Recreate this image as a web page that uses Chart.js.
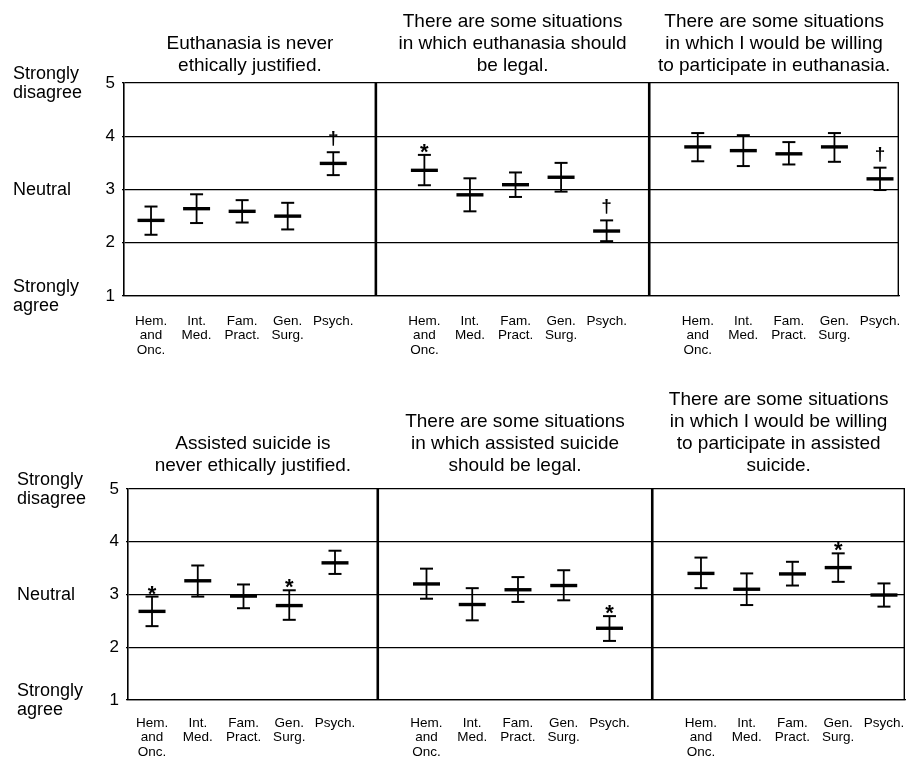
<!DOCTYPE html>
<html><head><meta charset="utf-8">
<script src="https://cdn.jsdelivr.net/npm/chart.js@4.4.1/dist/chart.umd.min.js"></script>
<style>
html,body{margin:0;padding:0;background:#fff;width:909px;height:762px;overflow:hidden;}
.row{position:absolute;left:0;width:909px;}
canvas{display:block;}
</style></head><body>
<div class="row" style="top:0;height:380px"><canvas id="topRow" width="909" height="380"></canvas></div>
<div class="row" style="top:380px;height:382px"><canvas id="bottomRow" width="909" height="382"></canvas></div>
<script>
const FONT = '"Liberation Sans", Arial, Helvetica, sans-serif';

// ---- categories & tick labels ----
const categories = [['Hem.', 'and', 'Onc.'], ['Int.', 'Med.'], ['Fam.', 'Pract.'], ['Gen.', 'Surg.'], ['Psych.']];
const yTicks = [1, 2, 3, 4, 5];
const sideLabels = [
  { value: 5, lines: ['Strongly', 'disagree'] },
  { value: 3, lines: ['Neutral'] },
  { value: 1, lines: ['Strongly', 'agree'] }
];

// ---- panel titles ----
const titleEuthNever = ['Euthanasia is never', 'ethically justified.'];
const titleEuthLegal = ['There are some situations', 'in which euthanasia should', 'be legal.'];
const titleEuthWilling = ['There are some situations', 'in which I would be willing', 'to participate in euthanasia.'];
const titleAsNever = ['Assisted suicide is', 'never ethically justified.'];
const titleAsLegal = ['There are some situations', 'in which assisted suicide', 'should be legal.'];
const titleAsWilling = ['There are some situations', 'in which I would be willing', 'to participate in assisted', 'suicide.'];

// ---- values (mean, lower and upper error bounds, significance marks) ----
const euthNeverMean = [2.42, 2.64, 2.59, 2.50, 3.49];
const euthNeverLow  = [2.15, 2.37, 2.38, 2.25, 3.27];
const euthNeverHigh = [2.68, 2.91, 2.80, 2.75, 3.70];
const euthNeverMarks = ['', '', '', '', '†'];

const euthLegalMean = [3.36, 2.90, 3.09, 3.23, 2.22];
const euthLegalLow  = [3.08, 2.59, 2.86, 2.96, 2.03];
const euthLegalHigh = [3.65, 3.21, 3.32, 3.50, 2.42];
const euthLegalMarks = ['*', '', '', '', '†'];

const euthWillingMean = [3.80, 3.73, 3.67, 3.80, 3.20];
const euthWillingLow  = [3.53, 3.44, 3.47, 3.52, 2.99];
const euthWillingHigh = [4.06, 4.02, 3.89, 4.06, 3.41];
const euthWillingMarks = ['', '', '', '', '†'];

const asNeverMean = [2.68, 3.26, 2.97, 2.79, 3.60];
const asNeverLow  = [2.40, 2.96, 2.74, 2.52, 3.39];
const asNeverHigh = [2.96, 3.55, 3.19, 3.08, 3.83];
const asNeverMarks = ['*', '', '', '*', ''];

const asLegalMean = [3.20, 2.81, 3.09, 3.17, 2.36];
const asLegalLow  = [2.92, 2.51, 2.86, 2.89, 2.12];
const asLegalHigh = [3.49, 3.12, 3.33, 3.46, 2.59];
const asLegalMarks = ['', '', '', '', '*'];

const asWillingMean = [3.40, 3.10, 3.39, 3.51, 2.99];
const asWillingLow  = [3.12, 2.80, 3.17, 3.24, 2.77];
const asWillingHigh = [3.70, 3.40, 3.62, 3.78, 3.21];
const asWillingMarks = ['', '', '', '*', ''];

function makeRow(canvasId, panels, cfg) {
  const slot = categories.length + 1;
  const meanPts = [], capPts = [], whiskerPts = [], tickPositions = [];
  panels.forEach((p, pi) => {
    p.mean.forEach((m, i) => {
      const x = pi * slot + i;
      tickPositions.push(x);
      meanPts.push({ x, y: m });
      capPts.push({ x, y: p.low[i] }, { x, y: p.high[i] });
      whiskerPts.push({ x, y: p.low[i] }, { x, y: p.high[i] }, { x, y: null });
    });
  });
  const edges = panels.slice(1).map((p, k) => (k + 1) * slot - 1 + cfg.sepShift);

  const decor = {
    id: 'decor',
    afterDraw(chart) {
      const { ctx, chartArea: ca, scales: { x, y } } = chart;
      ctx.save();
      ctx.strokeStyle = '#000';
      ctx.fillStyle = '#000';
      // panel separators
      ctx.lineWidth = 2.6;
      edges.forEach(e => {
        const px = x.getPixelForValue(e);
        ctx.beginPath(); ctx.moveTo(px, ca.top); ctx.lineTo(px, ca.bottom); ctx.stroke();
      });
      // right border
      ctx.lineWidth = 1.4;
      ctx.beginPath(); ctx.moveTo(ca.right - 0.7, ca.top); ctx.lineTo(ca.right - 0.7, ca.bottom); ctx.stroke();
      // titles
      const bounds = [x.min, ...edges, x.max];
      ctx.font = '19px ' + FONT;
      ctx.textAlign = 'center';
      ctx.textBaseline = 'middle';
      panels.forEach((p, pi) => {
        const cx = (x.getPixelForValue(bounds[pi]) + x.getPixelForValue(bounds[pi + 1])) / 2;
        const n = p.title.length;
        p.title.forEach((line, li) => {
          ctx.fillText(line, cx, ca.top - cfg.titleGap - (n - 1 - li) * 22);
        });
      });
      // side labels
      ctx.font = '18px ' + FONT;
      ctx.textAlign = 'left';
      sideLabels.forEach(s => {
        const cy = y.getPixelForValue(s.value);
        const n = s.lines.length;
        s.lines.forEach((line, li) => {
          ctx.fillText(line, cfg.sideX, cy + 1 + (li - (n - 1) / 2) * 19);
        });
      });
      // significance marks
      ctx.textAlign = 'center';
      ctx.textBaseline = 'alphabetic';
      panels.forEach((p, pi) => {
        p.marks.forEach((mk, i) => {
          if (!mk) return;
          const px = x.getPixelForValue(pi * slot + i);
          const cy = y.getPixelForValue(p.high[i]);
          if (mk === '*') {
            ctx.font = 'bold 22px ' + FONT;
            ctx.fillText(mk, px, cy + 4);
          } else {
            ctx.font = 'bold 19px ' + FONT;
            ctx.fillText(mk, px, cy - 8);
          }
        });
      });
      ctx.restore();
    }
  };

  return new Chart(document.getElementById(canvasId), {
    type: 'scatter',
    data: {
      datasets: [
        { data: whiskerPts, showLine: true, spanGaps: false, borderColor: '#000', borderWidth: 1.8, pointRadius: 0 },
        { data: capPts, pointStyle: 'line', pointRadius: 6.5, pointBorderWidth: 2, borderColor: '#000', backgroundColor: '#000' },
        { data: meanPts, pointStyle: 'line', pointRadius: 13.5, pointBorderWidth: 3.4, borderColor: '#000', backgroundColor: '#000' }
      ]
    },
    options: {
      responsive: false,
      animation: false,
      devicePixelRatio: 1,
      events: [],
      layout: { autoPadding: false, padding: { top: cfg.padTop, right: cfg.padRight, left: 0, bottom: 0 } },
      plugins: { legend: { display: false }, tooltip: { enabled: false } },
      scales: {
        x: {
          type: 'linear',
          min: cfg.xMin,
          max: cfg.xMax,
          afterBuildTicks: s => { s.ticks = tickPositions.map(v => ({ value: v })); },
          afterFit: s => { s.height = cfg.xAxisHeight; s.paddingLeft = 0; s.paddingRight = 0; },
          ticks: {
            callback: (v, i) => categories[i % categories.length],
            font: { size: 13.5, family: FONT, lineHeight: 1.07 },
            color: '#000',
            padding: cfg.xPad,
            maxRotation: 0,
            autoSkip: false
          },
          grid: { display: false, drawTicks: false },
          border: { display: true, color: '#000', width: 1.3 }
        },
        y: {
          min: 1,
          max: 5,
          afterBuildTicks: s => { s.ticks = yTicks.map(v => ({ value: v })); },
          afterFit: s => { s.width = cfg.axisLeft; },
          ticks: { font: { size: 17, family: FONT }, color: '#000', padding: 7 },
          grid: { color: '#000', lineWidth: 1.3, drawTicks: true, tickLength: 2 },
          border: { display: true, color: '#000', width: 1.6 }
        }
      }
    },
    plugins: [decor]
  });
}

makeRow('topRow', [
  { title: titleEuthNever, mean: euthNeverMean, low: euthNeverLow, high: euthNeverHigh, marks: euthNeverMarks },
  { title: titleEuthLegal, mean: euthLegalMean, low: euthLegalLow, high: euthLegalHigh, marks: euthLegalMarks },
  { title: titleEuthWilling, mean: euthWillingMean, low: euthWillingLow, high: euthWillingHigh, marks: euthWillingMarks }
], { padTop: 83, padRight: 10, axisLeft: 124, xAxisHeight: 84, xMin: -0.593, xMax: 16.417, sepShift: -0.065, titleGap: 17, sideX: 13, xPad: 18 });

makeRow('bottomRow', [
  { title: titleAsNever, mean: asNeverMean, low: asNeverLow, high: asNeverHigh, marks: asNeverMarks },
  { title: titleAsLegal, mean: asLegalMean, low: asLegalLow, high: asLegalHigh, marks: asLegalMarks },
  { title: titleAsWilling, mean: asWillingMean, low: asWillingLow, high: asWillingHigh, marks: asWillingMarks }
], { padTop: 109, padRight: 4, axisLeft: 128, xAxisHeight: 62, xMin: -0.525, xMax: 16.46, sepShift: -0.065, titleGap: 23, sideX: 17, xPad: 16 });
</script>
</body></html>
